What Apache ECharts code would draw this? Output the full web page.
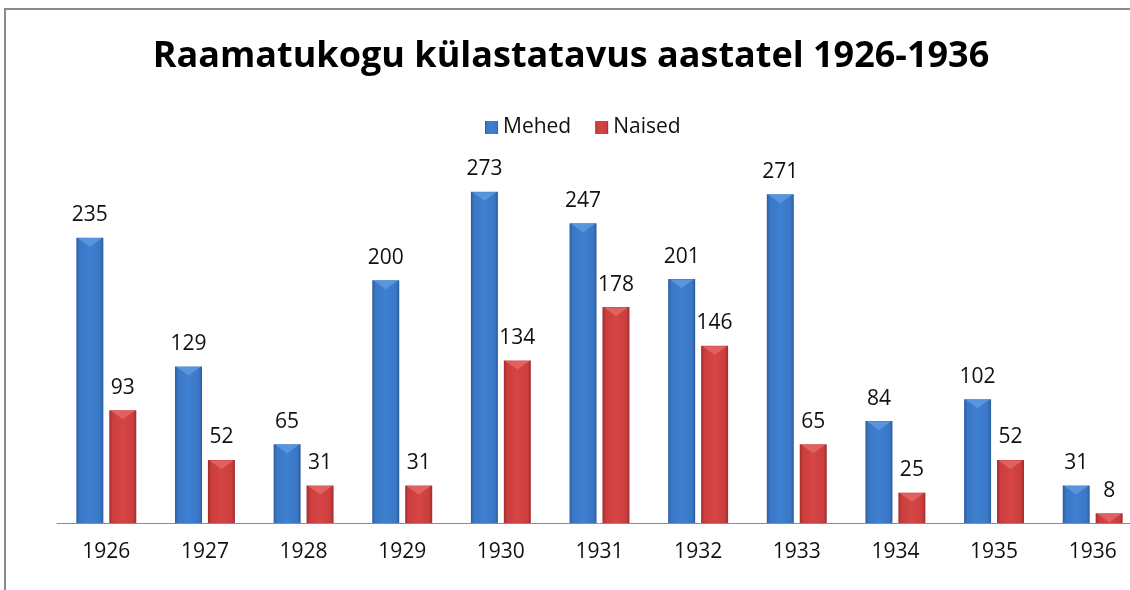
<!DOCTYPE html>
<html>
<head>
<meta charset="utf-8">
<script src="https://cdn.jsdelivr.net/npm/echarts@6/dist/echarts.min.js"></script>
<style>
html,body{margin:0;padding:0;background:#fff;overflow:hidden;width:1130px;height:590px;}
#chart{width:1142px;height:590px;}
</style>
</head>
<body>
<div id="chart"></div>
<script>
const titleText = 'Raamatukogu külastatavus aastatel 1926-1936';
const years = ['1926','1927','1928','1929','1930','1931','1932','1933','1934','1935','1936'];
const seriesNames = ['Mehed','Naised'];
const mehed = [235,129,65,200,273,247,201,271,84,102,31];
const naised = [93,52,31,31,134,178,146,65,25,52,8];

const FONT = '"Open Sans", "DejaVu Sans", sans-serif';
const BAR_W = 27;
const BAR_GAP_PX = 6;

function grad(edge, mid, light) {
  return new echarts.graphic.LinearGradient(0, 0, 1, 0, [
    {offset: 0, color: edge},
    {offset: 0.12, color: mid},
    {offset: 0.5, color: light},
    {offset: 0.88, color: mid},
    {offset: 1, color: edge}
  ]);
}
const blueFill = grad('#2c5d9c', '#3a77c6', '#3f80d0');
const redFill = grad('#9e2e2e', '#cc3d3d', '#d54545');
const bevelColors = ['#5b98de', '#e26565'];

const bevelData = [];
years.forEach((y, i) => {
  bevelData.push([i, mehed[i], 0]);
  bevelData.push([i, naised[i], 1]);
});

const chart = echarts.init(document.getElementById('chart'), null, {renderer: 'canvas'});
chart.setOption({
  animation: false,
  backgroundColor: '#ffffff',
  title: {
    text: titleText,
    left: 'center',
    top: 34,
    textStyle: {fontFamily: FONT, fontWeight: 'bold', fontSize: 36, color: '#000'}
  },
  legend: {
    data: seriesNames,
    top: 112,
    left: 480,
    itemWidth: 13,
    itemHeight: 13,
    itemGap: 24,
    icon: 'rect',
    textStyle: {fontFamily: FONT, fontSize: 21, color: '#111'}
  },
  graphic: [{
    type: 'rect',
    shape: {x: 5, y: 9, width: 1200, height: 700},
    style: {fill: 'none', stroke: '#8a8a8a', lineWidth: 2},
    silent: true
  }],
  grid: {left: 57, right: 0, top: 159, bottom: 67},
  xAxis: {
    type: 'category',
    data: years,
    axisLine: {show: true, lineStyle: {color: '#8c8c8c', width: 1}},
    axisTick: {show: false},
    axisLabel: {fontFamily: FONT, fontSize: 21, color: '#111', margin: 19}
  },
  yAxis: {
    type: 'value',
    min: 0,
    max: 300,
    interval: 50,
    show: false,
    splitLine: {show: false}
  },
  series: [
    {
      name: seriesNames[0],
      type: 'bar',
      data: mehed,
      barWidth: BAR_W,
      barGap: '22%',
      itemStyle: {color: blueFill},
      label: {show: true, position: 'top', distance: 12, fontFamily: FONT, fontSize: 21, color: '#111'}
    },
    {
      name: seriesNames[1],
      type: 'bar',
      data: naised,
      barWidth: BAR_W,
      barGap: '22%',
      itemStyle: {color: redFill},
      label: {show: true, position: 'top', distance: 12, fontFamily: FONT, fontSize: 21, color: '#111'}
    },
    {
      name: 'bevel',
      type: 'custom',
      silent: true,
      z: 5,
      data: bevelData,
      renderItem: function (params, api) {
        const idx = api.value(0), v = api.value(1), s = api.value(2);
        const top = api.coord([idx, v]);
        const base = api.coord([idx, 0]);
        const off = (BAR_W + BAR_GAP_PX) / 2;
        const cx = top[0] + (s === 0 ? -off : off);
        const half = BAR_W / 2 - 1.5;
        const h = Math.min(9, base[1] - top[1]);
        return {
          type: 'polygon',
          shape: {points: [[cx - half, top[1] + 0.5], [cx + half, top[1] + 0.5], [cx, top[1] + h]]},
          style: {fill: bevelColors[s], opacity: 0.9}
        };
      }
    }
  ]
});
</script>
</body>
</html>
